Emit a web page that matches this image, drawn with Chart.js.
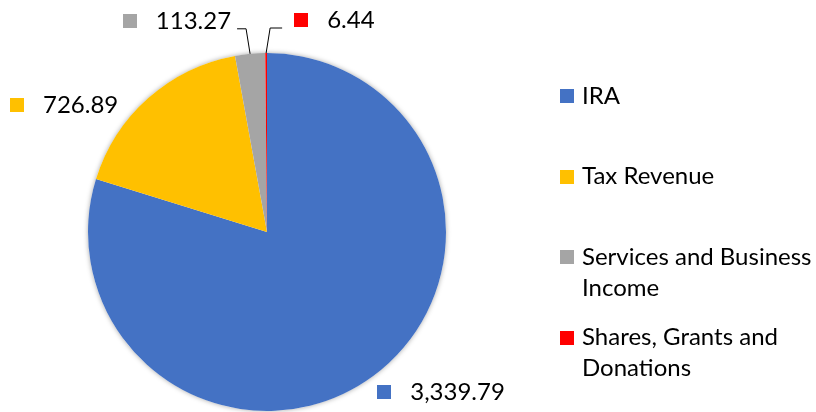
<!DOCTYPE html>
<html>
<head>
<meta charset="utf-8">
<script src="https://cdn.jsdelivr.net/npm/chart.js@4"></script>
<style>
  html, body { margin: 0; padding: 0; background: #fff; }
  #wrap { width: 816px; height: 412px; position: relative; }
</style>
</head>
<body>
<div id="wrap"><canvas id="chart"></canvas></div>
<script>
// Income sources (pie)
const categories = ['IRA', 'Tax Revenue', 'Services and Business Income', 'Shares, Grants and Donations'];
const values = [3339.79, 726.89, 113.27, 6.44];
const colors = ['#4472C4', '#FFC000', '#A5A5A5', '#FF0000'];

const FONT = '24px Lato';
const TEXT_COLOR = '#000';

// where each value label sits relative to the slice's outer edge midpoint
const labelPlacement = [
  { dx: 4, dy: 16, align: 'left' },
  { dx: -30, dy: 7, align: 'right' },
  { dx: -19, dy: -33, align: 'right', leader: true },
  { dx: 28, dy: -33, align: 'left', leader: true }
];

function formatValue(v) {
  return v.toLocaleString('en-US', { minimumFractionDigits: 2, maximumFractionDigits: 2 });
}

// soft shadow behind the whole pie
const pieShadow = {
  id: 'pieShadow',
  beforeDatasetsDraw(chart) {
    const arc = chart.getDatasetMeta(0).data[0];
    if (!arc) return;
    const ctx = chart.ctx;
    ctx.save();
    ctx.shadowColor = 'rgba(0, 0, 0, 0.35)';
    ctx.shadowBlur = 5;
    ctx.fillStyle = '#fff';
    ctx.beginPath();
    ctx.arc(arc.x, arc.y, arc.outerRadius, 0, Math.PI * 2);
    ctx.fill();
    ctx.restore();
  }
};

// value labels outside the slices, with leader lines for the thin ones
const outsideLabels = {
  id: 'outsideLabels',
  afterDatasetsDraw(chart) {
    const ctx = chart.ctx;
    const meta = chart.getDatasetMeta(0);
    const box = 14, gap = 19;
    ctx.save();
    ctx.font = FONT;
    ctx.textBaseline = 'middle';
    meta.data.forEach((arc, i) => {
      const p = labelPlacement[i];
      const mid = (arc.startAngle + arc.endAngle) / 2;
      const ex = arc.x + Math.cos(mid) * arc.outerRadius;
      const ey = arc.y + Math.sin(mid) * arc.outerRadius;
      const text = formatValue(values[i]);
      const tw = ctx.measureText(text).width;
      const cy = ey + p.dy;
      let boxLeft;
      if (p.align === 'right') {
        boxLeft = ex + p.dx - tw - gap - box;
      } else {
        boxLeft = ex + p.dx;
      }
      const textLeft = boxLeft + box + gap;
      ctx.fillStyle = colors[i];
      ctx.fillRect(Math.round(boxLeft), Math.round(cy - box / 2), box, box);
      ctx.fillStyle = TEXT_COLOR;
      ctx.textAlign = 'left';
      ctx.fillText(text, textLeft, cy);

      if (p.leader) {
        const elbowX = ex + (p.align === 'right' ? -4 : 4);
        const elbowY = cy + 8;
        const endX = p.align === 'right' ? textLeft + tw + 6 : boxLeft - 12;
        ctx.strokeStyle = '#000';
        ctx.lineWidth = 1;
        ctx.beginPath();
        ctx.moveTo(ex, ey);
        ctx.lineTo(elbowX, elbowY);
        ctx.lineTo(endX, elbowY);
        ctx.stroke();
      }
    });
    ctx.restore();
  }
};

// legend on the right with wrapped labels
const sideLegend = {
  id: 'sideLegend',
  afterDraw(chart, args, opts) {
    const ctx = chart.ctx;
    ctx.save();
    ctx.font = FONT;
    ctx.textBaseline = 'middle';
    ctx.textAlign = 'left';
    categories.forEach((name, i) => {
      const y = opts.top + i * opts.step;
      ctx.fillStyle = colors[i];
      ctx.fillRect(opts.x, Math.round(y - 7), 14, 14);
      const words = name.split(' ');
      const lines = [];
      let line = '';
      words.forEach(w => {
        const test = line ? line + ' ' + w : w;
        if (ctx.measureText(test).width > opts.maxWidth && line) {
          lines.push(line);
          line = w;
        } else {
          line = test;
        }
      });
      lines.push(line);
      ctx.fillStyle = TEXT_COLOR;
      lines.forEach((l, j) => ctx.fillText(l, opts.x + 22, y + j * opts.lineHeight));
    });
    ctx.restore();
  }
};

new Chart(document.getElementById('chart'), {
  type: 'pie',
  data: {
    labels: categories,
    datasets: [{
      data: values,
      backgroundColor: colors,
      borderWidth: 0
    }]
  },
  options: {
    responsive: true,
    maintainAspectRatio: false,
    animation: false,
    layout: {
      padding: { left: 88, right: 370, top: 53, bottom: 1 }
    },
    plugins: {
      legend: { display: false },
      tooltip: { enabled: false },
      sideLegend: { x: 560, top: 96, step: 80.5, lineHeight: 31, maxWidth: 234 }
    }
  },
  plugins: [pieShadow, outsideLabels, sideLegend]
});
</script>
</body>
</html>
